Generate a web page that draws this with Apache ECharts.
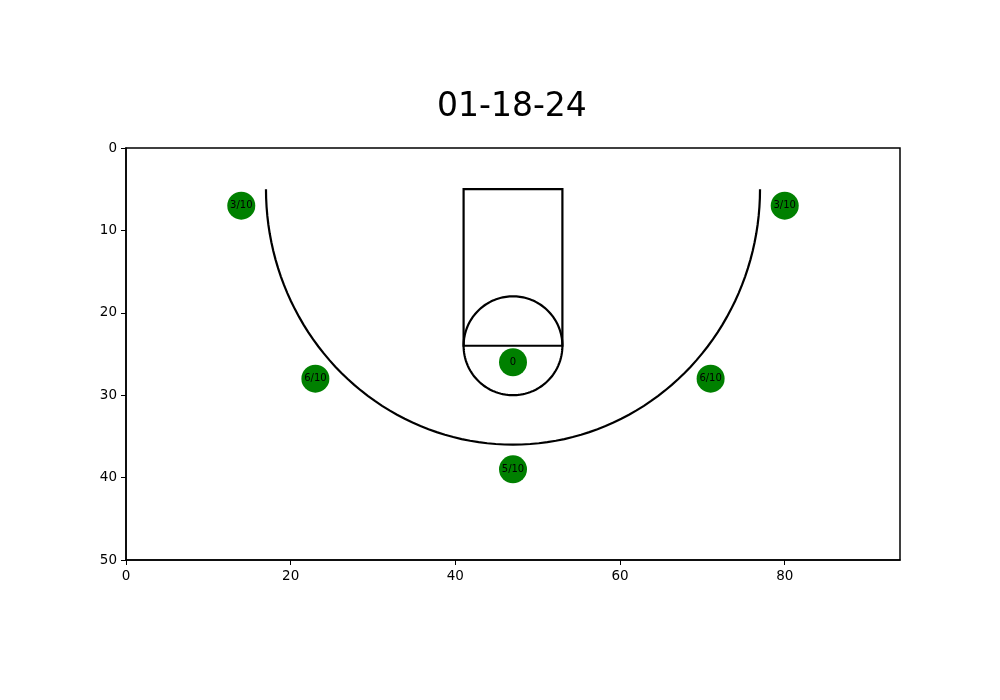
<!DOCTYPE html>
<html>
<head>
<meta charset="utf-8">
<script src="https://cdn.jsdelivr.net/npm/echarts@6/dist/echarts.min.js"></script>
<style>
  html, body { margin: 0; padding: 0; background: #fff; }
  #chart { width: 1000px; height: 700px; }
</style>
</head>
<body>
<div id="chart"></div>
<script>
// shot spots (court coords) and makes/attempts labels
const shotX = [14, 80, 23, 71, 47, 47];
const shotY = [7, 7, 28, 28, 26, 39];
const shotLabels = ["3/10", "3/10", "6/10", "6/10", "0", "5/10"];

// court lines: lane [x0, y0, x1, y1], circles/arcs [cx, cy, rx, ry, startDeg, endDeg]
const laneRect = [41, 5, 53, 24];
const courtArcs = [
  [47, 24, 6, 6, 0, 360],
  [47, 5, 30, 31, 0, 180],
];

const xTicks = [0, 20, 40, 60, 80];
const yTicks = [0, 10, 20, 30, 40, 50];

const chart = echarts.init(document.getElementById("chart"), null, { renderer: "canvas" });

function renderCourt(params, api) {
  const kind = api.value(0);
  const style = { stroke: "#000", lineWidth: 2.2, fill: null };
  if (kind === 0) {
    const p0 = api.coord([laneRect[0], laneRect[1]]);
    const p1 = api.coord([laneRect[2], laneRect[3]]);
    return {
      type: "rect",
      shape: { x: p0[0], y: p0[1], width: p1[0] - p0[0], height: p1[1] - p0[1] },
      style: style,
      silent: true,
    };
  }
  const a = courtArcs[kind - 1];
  const pts = [];
  for (let deg = a[4]; deg <= a[5]; deg += 2) {
    const t = (deg * Math.PI) / 180;
    pts.push(api.coord([a[0] + a[2] * Math.cos(t), a[1] + a[3] * Math.sin(t)]));
  }
  return { type: "polyline", shape: { points: pts }, style: style, silent: true };
}

const axisLine = { show: true, onZero: false, lineStyle: { color: "#000", width: 1.5 } };
const labelStyle = { color: "#000", fontSize: 13.5, fontFamily: "DejaVu Sans", margin: 9 };

const option = {
  backgroundColor: "#fff",
  animation: false,
  title: {
    text: "01-18-24",
    left: 432,
    top: 86,
    textStyle: { fontFamily: "DejaVu Sans", fontSize: 33, fontWeight: "normal", color: "#000" },
  },
  grid: {
    left: 126,
    right: 100,
    top: 148,
    bottom: 140,
    show: true,
    borderColor: "#000",
    borderWidth: 1.5,
  },
  xAxis: {
    type: "value",
    min: 0,
    max: 94,
    interval: 20,
    axisLine: axisLine,
    axisTick: { show: true, inside: false, length: 5, customValues: xTicks, lineStyle: { color: "#000", width: 1 } },
    axisLabel: Object.assign({ customValues: xTicks }, labelStyle),
    splitLine: { show: false },
  },
  yAxis: {
    type: "value",
    min: 0,
    max: 50,
    interval: 10,
    inverse: true,
    axisLine: axisLine,
    axisTick: { show: true, inside: false, length: 5, customValues: yTicks, lineStyle: { color: "#000", width: 1 } },
    axisLabel: Object.assign({ customValues: yTicks }, labelStyle),
    splitLine: { show: false },
  },
  series: [
    {
      type: "custom",
      renderItem: renderCourt,
      data: [[0], [1], [2]],
      z: 2,
      clip: false,
    },
    {
      type: "scatter",
      symbol: "circle",
      symbolSize: 28,
      itemStyle: { color: "#008000", opacity: 1 },
      label: {
        show: true,
        position: "inside",
        color: "#000",
        fontSize: 10,
        fontFamily: "DejaVu Sans",
        formatter: (p) => shotLabels[p.dataIndex],
      },
      data: shotX.map((x, i) => [x, shotY[i]]),
      z: 3,
    },
  ],
};

chart.setOption(option);
</script>
</body>
</html>
